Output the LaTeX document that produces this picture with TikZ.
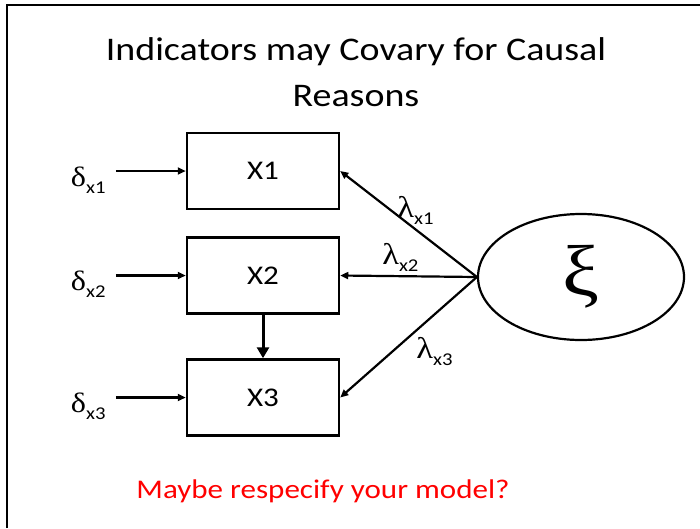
\documentclass[tikz,border=0pt]{standalone}
\usepackage{fontspec}
\setmainfont[FakeStretch=1.15]{Carlito}
\newfontfamily\greekfont[FakeStretch=1.15]{Liberation Serif}
\usepackage{xcolor}
\usetikzlibrary{arrows.meta,positioning,shapes.geometric}
\definecolor{alert}{HTML}{FF0000}
\newcommand{\sub}[1]{\raisebox{-7pt}{\fontsize{18}{18}\selectfont #1}}

\begin{document}
\begin{tikzpicture}[x=1pt,y=-1pt,
  indicator/.style={draw,line width=2.5pt,minimum width=152pt,minimum height=76pt,
    inner sep=0pt,font=\fontsize{27}{32}\selectfont},
  latent/.style={draw,ellipse,line width=2.2pt,minimum width=206pt,minimum height=126pt,
    inner sep=0pt,font=\greekfont\fontsize{72}{74}\selectfont},
  errlabel/.style={inner ysep=0pt,inner xsep=10pt,font=\fontsize{28}{30}\selectfont},
  lamlabel/.style={inner sep=0pt,font=\fontsize{30}{32}\selectfont},
  arrow/.style={-{Triangle[length=8pt,width=7pt]},line width=2.2pt},
  bigarrow/.style={-{Triangle[length=11pt,width=12pt]},line width=3pt}
]
\useasboundingbox (0,0) rectangle (700,528);
\draw[line width=2pt] (7,528) -- (7,5) -- (700,5);

\node[align=center,font=\fontsize{33}{46}\selectfont] (title) at (356,72)
  {Indicators may Covary for Causal\\Reasons};

\node[indicator] (x1) at (263,171) {X1};
\node[indicator,below=26pt of x1] (x2) {X2};
\node[indicator,below=43.5pt of x2] (x3) {X3};

\node[errlabel,left=70pt of x1,yshift=-9pt] (d1) {{\greekfont δ}\sub{x1}};
\node[errlabel,left=70pt of x2,yshift=-9pt] (d2) {{\greekfont δ}\sub{x2}};
\node[errlabel,left=70pt of x3,yshift=-9pt] (d3) {{\greekfont δ}\sub{x3}};

\node[latent] (xi) at (581,277) {ξ};

\draw[arrow] (d1.east |- x1.west) -- (x1.west);
\draw[arrow] (d2.east |- x2.west) -- (x2.west);
\draw[arrow] (d3.east |- x3.west) -- (x3.west);
\draw[bigarrow] (x2) -- (x3);

\draw[arrow] (xi.west) -- node[lamlabel,pos=0.45,yshift=19pt] {{\greekfont λ}\sub{x1}} (x1.east);
\draw[arrow] (xi.west) -- node[lamlabel,pos=0.56,yshift=19pt] {{\greekfont λ}\sub{x2}} (x2.east);
\draw[arrow] (xi.west) -- node[lamlabel,pos=0.31,yshift=-37pt] {{\greekfont λ}\sub{x3}} (x3.east);

\node[font=\fontsize{27}{32}\selectfont,text=alert] (note) at (323,491) {Maybe respecify your model?};
\end{tikzpicture}
\end{document}
